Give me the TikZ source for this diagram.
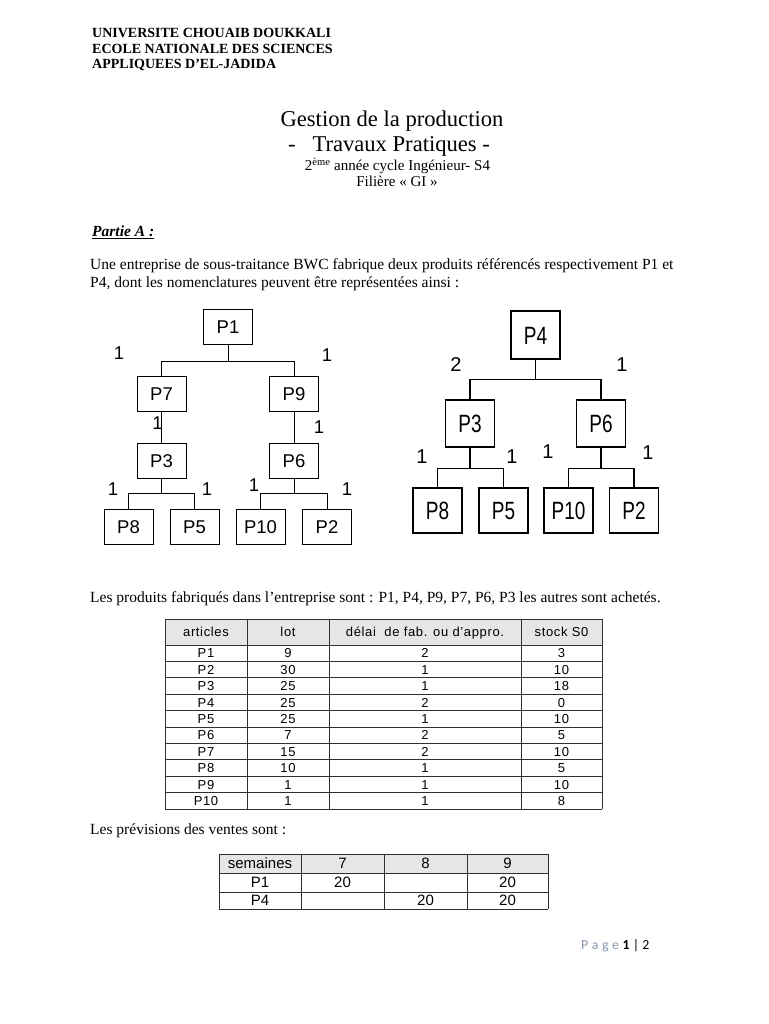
\documentclass[tikz,border=0pt]{standalone}
\usepackage{fontspec}
\setmainfont{Liberation Serif}
\newfontfamily\arial{Liberation Sans}
\newfontfamily\arialn[FakeStretch=0.76]{Liberation Sans}
\newfontfamily\tabfont[LetterSpace=5]{Liberation Sans}
\newfontfamily\calib{Carlito}
\newfontfamily\calibls[LetterSpace=27]{Carlito}
\definecolor{pagegrey}{HTML}{8497B0}
\definecolor{hdrgrey}{HTML}{E6E6E6}
\definecolor{gridc}{HTML}{303030}
\begin{document}
\begin{tikzpicture}[x=1pt,y=-1pt,
  txt/.style={inner sep=0, anchor=base west, font=\fontsize{15.5}{18}\selectfont},
  ctxt/.style={inner sep=0, anchor=base},
  lbox/.style={draw, line width=1pt, minimum width=49pt, minimum height=35pt, inner sep=0, text height=13.3pt, text depth=0pt, font=\arial\fontsize{18.5}{20}\selectfont},
  rbox/.style={draw, line width=1.4pt, minimum width=49pt, minimum height=47pt, inner sep=0, text height=18pt, text depth=0pt, font=\arialn\fontsize{25}{27}\selectfont},
  lq/.style={inner sep=0, font=\arial\fontsize{18.5}{20}\selectfont},
  rq/.style={inner sep=0, font=\arial\fontsize{20}{22}\selectfont},
  lcon/.style={line width=1pt},
  rcon/.style={line width=1.3pt},
  tcell/.style={inner sep=0, text height=9.3pt, text depth=0pt, font=\tabfont\fontsize{13}{14}\selectfont},
  scell/.style={inner sep=0, text height=10.7pt, text depth=0pt, font=\arial\fontsize{15}{16}\selectfont},
  grid/.style={draw=gridc, line width=0.9pt}
]
\useasboundingbox (0,0) rectangle (768,1024);
\fill[white] (0,0) rectangle (768,1024);

% header
\node[txt, font=\bfseries\fontsize{14}{16}\selectfont] (h1) at (92,38) {UNIVERSITE CHOUAIB DOUKKALI};
\node[txt, font=\bfseries\fontsize{14}{16}\selectfont] (h2) at (92,53.5) {ECOLE NATIONALE DES SCIENCES};
\node[txt, font=\bfseries\fontsize{14}{16}\selectfont] (h3) at (92,69) {APPLIQUEES D’EL-JADIDA};

% title
\node[ctxt, font=\fontsize{22.6}{26}\selectfont] (t1) at (392,127) {Gestion de la production};
\node[ctxt, font=\fontsize{22.6}{26}\selectfont] (t2) at (389,151.5) {-\ \ \ Travaux Pratiques -};
\node[ctxt, font=\fontsize{15}{18}\selectfont] (t3) at (397.5,170.5) {2\textsuperscript{ème} année cycle Ingénieur- S4};
\node[ctxt, font=\fontsize{15}{18}\selectfont] (t4) at (397,186.5) {Filière « GI »};

\node[txt] (pa) at (92,236.5) {\underline{\textbf{\textit{Partie A :}}}};

\node[txt] (p1) at (90,269) {Une entreprise de sous-traitance BWC fabrique deux produits référencés respectivement P1 et};
\node[txt] (p2) at (90,287) {P4, dont les nomenclatures peuvent être représentées ainsi :};

% left tree
\node[lbox] (lP1) at (228,327) {P1};
\node[lbox] (lP7) at (161.5,393.5) {P7};
\node[lbox] (lP9) at (294,393.5) {P9};
\node[lbox] (lP3) at (161.5,460.5) {P3};
\node[lbox] (lP6) at (294,460.5) {P6};
\node[lbox] (lP8) at (128.5,526.5) {P8};
\node[lbox] (lP5) at (194.5,526.5) {P5};
\node[lbox] (lP10) at (260.5,526.5) {P10};
\node[lbox] (lP2) at (327,526.5) {P2};
\draw[lcon] (lP1.south) -- ++(0,16) -| (lP7.north);
\draw[lcon] (lP1.south) -- ++(0,16) -| (lP9.north);
\draw[lcon] (lP7.south) -- (lP3.north);
\draw[lcon] (lP9.south) -- (lP6.north);
\draw[lcon] (lP3.south) -- ++(0,15) -| (lP8.north);
\draw[lcon] (lP3.south) -- ++(0,15) -| (lP5.north);
\draw[lcon] (lP6.south) -- ++(0,15) -| (lP10.north);
\draw[lcon] (lP6.south) -- ++(0,15) -| (lP2.north);
\node[lq] (lq1) at (119,353) {1};
\node[lq] (lq2) at (327,355) {1};
\node[lq] (lq3) at (157.5,423) {1};
\node[lq] (lq4) at (319,427) {1};
\node[lq] (lq5) at (113,489) {1};
\node[lq] (lq6) at (207,489) {1};
\node[lq] (lq7) at (254,485) {1};
\node[lq] (lq8) at (347,489) {1};

% right tree
\node[rbox, minimum height=48pt] (rP4) at (535.5,335) {P4};
\node[rbox] (rP3) at (470,423.5) {P3};
\node[rbox] (rP6) at (601,423.5) {P6};
\node[rbox, minimum height=45pt] (rP8) at (437.5,510.5) {P8};
\node[rbox, minimum height=45pt] (rP5) at (503.5,510.5) {P5};
\node[rbox, minimum height=45pt] (rP10) at (568.5,510.5) {P10};
\node[rbox, minimum height=45pt] (rP2) at (634,510.5) {P2};
\draw[rcon] (rP4.south) -- ++(0,20) -| (rP3.north);
\draw[rcon] (rP4.south) -- ++(0,20) -| (rP6.north);
\draw[rcon] (rP3.south) -- ++(0,21) -| (rP8.north);
\draw[rcon] (rP3.south) -- ++(0,21) -| (rP5.north);
\draw[rcon] (rP6.south) -- ++(0,21) -| (rP10.north);
\draw[rcon] (rP6.south) -- ++(0,21) -| (rP2.north);
\node[rq] (rq1) at (456,365) {2};
\node[rq] (rq2) at (622,365) {1};
\node[rq] (rq3) at (422,457) {1};
\node[rq] (rq4) at (512,457) {1};
\node[rq] (rq5) at (548,452) {1};
\node[rq] (rq6) at (648,453) {1};

\node[txt] (p3) at (90,602) {Les produits fabriqués dans l’entreprise sont : P1, P4, P9, P7, P6, P3 les autres sont achetés.};

% table 1
\fill[hdrgrey] (165,619) rectangle (602,645);
\foreach \k in {0,...,10} {\draw[grid] (165,{645+16.4*\k}) -- (602,{645+16.4*\k});}
\draw[grid] (165,619) -- (602,619);
\foreach \xx in {165,247,329,521,602} {\draw[grid] (\xx,619) -- (\xx,809);}
\node[tcell] (ha) at (206,632) {articles};
\node[tcell] (hb) at (288,632) {lot};
\node[tcell] (hc) at (425,632) {délai\ \ de fab. ou d’appro.};
\node[tcell] (hd) at (561.5,632) {stock S0};
\foreach \p/\l/\d/\s [count=\i] in {P1/9/2/3, P2/30/1/10, P3/25/1/18, P4/25/2/0, P5/25/1/10, P6/7/2/5, P7/15/2/10, P8/10/1/5, P9/1/1/10, P10/1/1/8} {
  \node[tcell] (ra\i) at (206,{636.8+16.4*\i}) {\p};
  \node[tcell] (rb\i) at (288,{636.8+16.4*\i}) {\l};
  \node[tcell] (rc\i) at (425,{636.8+16.4*\i}) {\d};
  \node[tcell] (rd\i) at (561.5,{636.8+16.4*\i}) {\s};
}

\node[txt] (p4) at (90,834) {Les prévisions des ventes sont :};

% table 2
\fill[hdrgrey] (219,854) rectangle (548,873);
\foreach \yy in {854,873,892,909} {\draw[grid] (219,\yy) -- (548,\yy);}
\foreach \xx in {219,301,384,467,548} {\draw[grid] (\xx,854) -- (\xx,909);}
\node[scell] (s00) at (260,863.5) {semaines};
\node[scell] (s01) at (342.5,863.5) {7};
\node[scell] (s02) at (425.5,863.5) {8};
\node[scell] (s03) at (507.5,863.5) {9};
\node[scell] (s10) at (260,882.5) {P1};
\node[scell] (s11) at (342.5,882.5) {20};
\node[scell] (s13) at (507.5,882.5) {20};
\node[scell] (s20) at (260,900.5) {P4};
\node[scell] (s22) at (425.5,900.5) {20};
\node[scell] (s23) at (507.5,900.5) {20};

% footer
\node[inner sep=0, anchor=base west, font=\fontsize{13.8}{16}\selectfont] (pg) at (581,949) {{\color{pagegrey}\calibls Page}\ {\calib\bfseries 1} {\calib | 2}};
\end{tikzpicture}
\end{document}
